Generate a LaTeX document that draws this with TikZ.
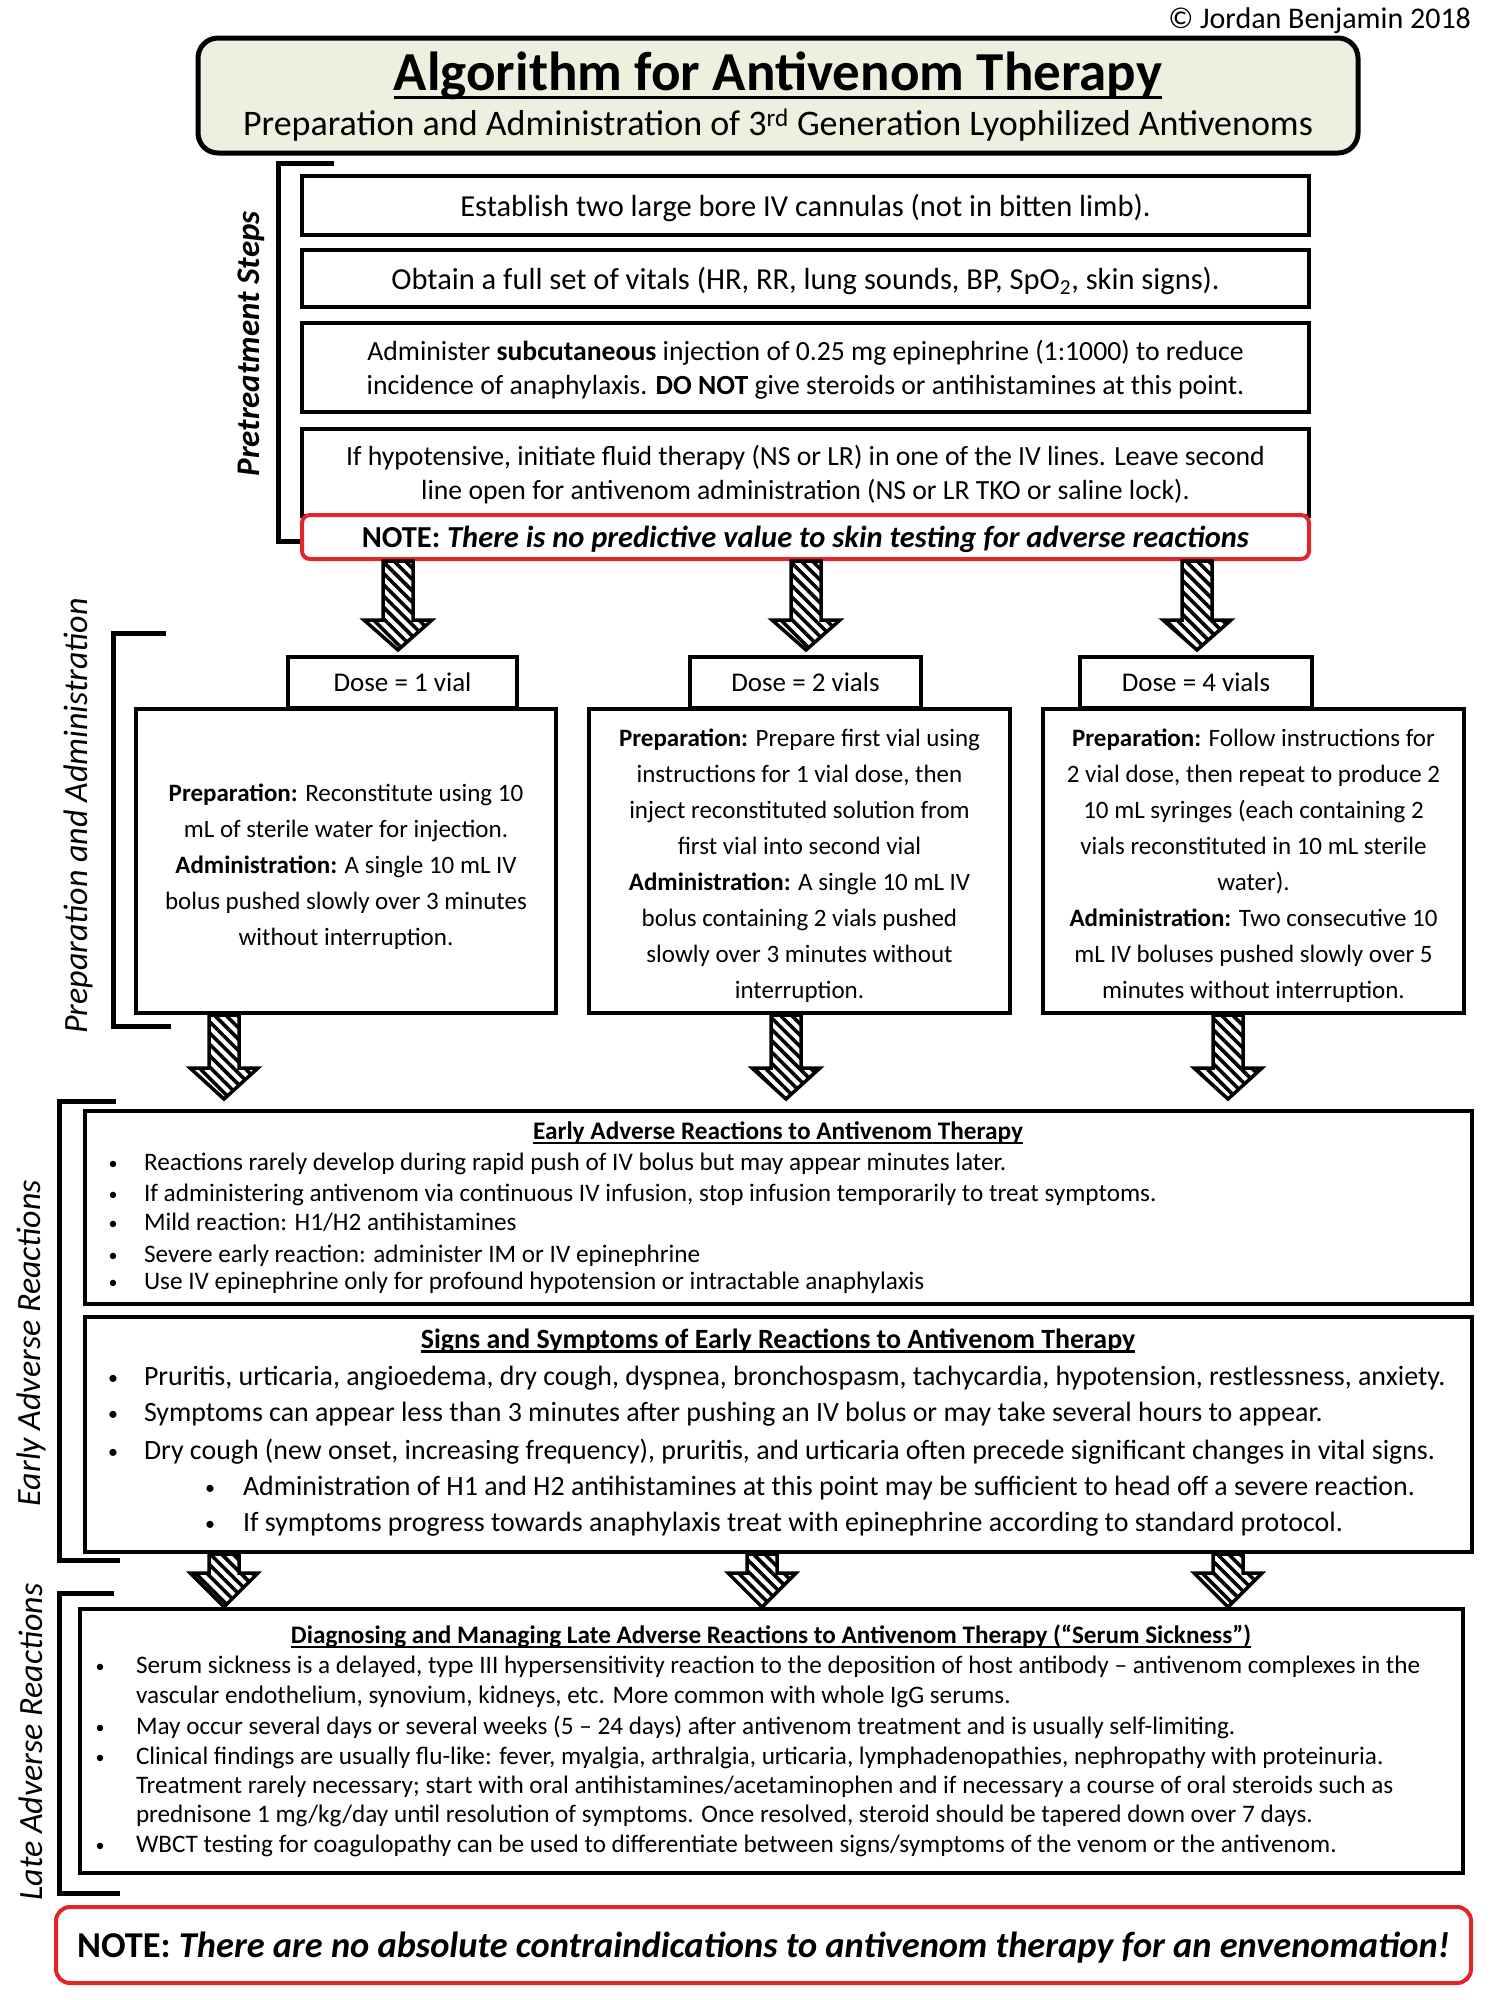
\documentclass[tikz,border=0pt]{standalone}
\usepackage{fontspec}
\setmainfont{Carlito}
\usetikzlibrary{patterns.meta}
\definecolor{titlegreen}{HTML}{EBF1DE}
\definecolor{notered}{HTML}{E2242B}
\newcommand\fsz[2]{\fontsize{#1}{#2}\selectfont}
\newcommand\harrow[4]{%
  \draw[hatcharrow] ({#1-15},#2) -- ({#1+15},#2) -- ({#1+15},#3) -- ({#1+34},#3) -- (#1,#4) -- ({#1-34},#3) -- ({#1-15},#3) -- cycle;}
\newcommand\ulunder[2]{%
  \draw[line width=#2pt] ([yshift=-3.5pt]#1.base west) -- ([yshift=-3.5pt]#1.base east);}
\tikzset{
  every node/.style={inner sep=0pt, outer sep=0pt},
  frame/.style={draw=black, line width=4.5pt, fill=white, rectangle},
  hatcharrow/.style={draw=black, line width=3.5pt, line join=miter, preaction={fill=white},
    pattern={Lines[angle=-45,distance=8pt,line width=3.6pt]}, pattern color=black},
  bracket/.style={draw=black, line width=5pt, line join=miter},
  sidelabel/.style={rotate=90, font=\itshape\fsz{34}{40}},
  bul/.style={anchor=base},
  ln/.style={anchor=base west},
  etxt/.style={font=\fsz{25.2}{30}},
  ebul/.style={anchor=base, font=\fsz{18}{20}},
  stxt/.style={font=\fsz{27.9}{33}},
  sbul/.style={anchor=base, font=\fsz{20}{22}},
  boxtxt/.style={align=center, font=\fsz{25}{36}},
}
\begin{document}
\begin{tikzpicture}[x=1pt,y=-1pt]
\useasboundingbox[fill=white] (0,0) rectangle (1500,2000);

% copyright
\node[anchor=east, font=\fsz{30}{36}] (copy) at (1471,21) {© Jordan Benjamin 2018};

% title box
\node[draw=black, line width=5pt, fill=titlegreen, rounded corners=20pt,
      minimum width=1160pt, minimum height=115pt] (titlebox) at (778,95.5) {};
\node[font=\bfseries\fsz{55}{66}] (title) at (778,76) {Algorithm for Antivenom Therapy};
\draw[line width=3.5pt] ([yshift=-7pt]title.base west) -- ([yshift=-7pt]title.base east);
\node[font=\fsz{36}{44}] (subtitle) at (778,125.5) {Preparation and Administration of 3\textsuperscript{rd} Generation Lyophilized Antivenoms};

% pretreatment bracket and label
\draw[bracket] (334,163) -- (278,163) -- (278,541) -- (302,541);
\node[rotate=90, font=\bfseries\itshape\fsz{33}{40}] (lpre) at (251,344) {Pretreatment Steps};

% pretreatment boxes
\node[frame, minimum width=1007pt, minimum height=59pt] (p1) at (805.5,205.5) {};
\node[font=\fsz{30.5}{35}] (p1t) at (805.5,208)
  {Establish two large bore IV cannulas (not in bitten limb).};
\node[frame, minimum width=1007pt, minimum height=57pt] (p2) at (805.5,278.5) {};
\node[font=\fsz{30.5}{35}] (p2t) at (805.5,281)
  {Obtain a full set of vitals (HR, RR, lung sounds, BP, SpO\textsubscript{2}, skin signs).};
\node[frame, minimum width=1007pt, minimum height=89pt] (p3) at (805.5,367.5) {};
\node[align=center, font=\fsz{27.7}{34}] (p3t) at (805.5,369.5)
  {Administer \textbf{subcutaneous} injection of 0.25 mg epinephrine (1:1000) to reduce\\
   incidence of anaphylaxis. \textbf{DO NOT} give steroids or antihistamines at this point.};
\node[frame, minimum width=1007pt, minimum height=87pt] (p4) at (805.5,472.5) {};
\node[align=center, font=\fsz{27.7}{34}] (p4t) at (805.5,475)
  {If hypotensive, initiate fluid therapy (NS or LR) in one of the IV lines. Leave second\\
   line open for antivenom administration (NS or LR TKO or saline lock).};
\node[draw=notered, line width=4pt, fill=white, rounded corners=8pt,
      minimum width=1007pt, minimum height=44pt] (note1) at (805.5,537) {};
\node[font=\fsz{30.5}{35}] (note1t) at (805.5,539.5)
  {\textbf{NOTE:} \textbf{\textit{There is no predictive value to skin testing for adverse reactions}}};

% arrows to dose boxes
\harrow{398}{561}{620}{650}
\harrow{806}{561}{620}{650}
\harrow{1197}{561}{620}{650}

% preparation bracket and label
\draw[bracket] (166,633) -- (113,633) -- (113,1026) -- (171,1026);
\node[sidelabel] (lprep) at (78,816) {Preparation and Administration};

% dose boxes
\node[frame, minimum width=229pt, minimum height=51pt, font=\fsz{27}{32}] (d1) at (402.5,682.5) {Dose = 1 vial};
\node[frame, minimum width=231pt, minimum height=51pt, font=\fsz{27}{32}] (d2) at (805.5,682.5) {Dose = 2 vials};
\node[frame, minimum width=232pt, minimum height=51pt, font=\fsz{27}{32}] (d3) at (1196,682.5) {Dose = 4 vials};

\node[frame, minimum width=420pt, minimum height=304pt] (m1) at (346,861) {};
\node[boxtxt] (m1t) at (346,867)
  {\textbf{Preparation:} Reconstitute using 10\\ mL of sterile water for injection.\\
   \textbf{Administration:} A single 10 mL IV\\ bolus pushed slowly over 3 minutes\\ without interruption.};
\node[frame, minimum width=421pt, minimum height=304pt] (m2) at (799.5,861) {};
\node[boxtxt] (m2t) at (799.5,866)
  {\textbf{Preparation:} Prepare first vial using\\ instructions for 1 vial dose, then\\
   inject reconstituted solution from\\ first vial into second vial\\
   \textbf{Administration:} A single 10 mL IV\\ bolus containing 2 vials pushed\\
   slowly over 3 minutes without\\ interruption.};
\node[frame, minimum width=421pt, minimum height=304pt] (m3) at (1253.5,861) {};
\node[boxtxt] (m3t) at (1253.5,866)
  {\textbf{Preparation:} Follow instructions for\\ 2 vial dose, then repeat to produce 2\\
   10 mL syringes (each containing 2\\ vials reconstituted in 10 mL sterile\\ water).\\
   \textbf{Administration:} Two consecutive 10\\ mL IV boluses pushed slowly over 5\\
   minutes without interruption.};

% arrows to early box
\harrow{224}{1015}{1068}{1099}
\harrow{786}{1015}{1068}{1099}
\harrow{1228}{1015}{1068}{1099}

% early bracket and label
\draw[bracket] (116,1101) -- (59,1101) -- (59,1560) -- (120,1560);
\node[sidelabel] (learly) at (31,1343) {Early Adverse Reactions};

% early box
\node[frame, minimum width=1387pt, minimum height=193pt] (eb) at (778.5,1207.5) {};
\node[bul, font=\bfseries\fsz{25.3}{30}] (et) at (778,1139) {Early Adverse Reactions to Antivenom Therapy};
\ulunder{et}{2}
\node[ebul] (eb1) at (113,1169) {•};
\node[ln, etxt] (e1) at (144,1170) {Reactions rarely develop during rapid push of IV bolus but may appear minutes later.};
\node[ebul] (eb2) at (113,1200) {•};
\node[ln, etxt] (e2) at (144,1201) {If administering antivenom via continuous IV infusion, stop infusion temporarily to treat symptoms.};
\node[ebul] (eb3) at (113,1229) {•};
\node[ln, etxt] (e3) at (144,1230) {Mild reaction: H1/H2 antihistamines};
\node[ebul] (eb4) at (113,1261) {•};
\node[ln, etxt] (e4) at (144,1262) {Severe early reaction: administer IM or IV epinephrine};
\node[ebul] (eb5) at (113,1288) {•};
\node[ln, etxt] (e5) at (144,1289) {Use IV epinephrine only for profound hypotension or intractable anaphylaxis};

% signs box
\node[frame, minimum width=1387pt, minimum height=235pt] (sb) at (778.5,1434.5) {};
\node[bul, font=\bfseries\fsz{27.9}{33}] (st) at (778,1348) {Signs and Symptoms of Early Reactions to Antivenom Therapy};
\ulunder{st}{2.2}
\node[sbul] (sb1) at (113,1384) {•};
\node[ln, stxt] (s1) at (144,1385) {Pruritis, urticaria, angioedema, dry cough, dyspnea, bronchospasm, tachycardia, hypotension, restlessness, anxiety.};
\node[sbul] (sb2) at (113,1420) {•};
\node[ln, stxt] (s2) at (144,1421) {Symptoms can appear less than 3 minutes after pushing an IV bolus or may take several hours to appear.};
\node[sbul] (sb3) at (113,1458) {•};
\node[ln, stxt] (s3) at (144,1459) {Dry cough (new onset, increasing frequency), pruritis, and urticaria often precede significant changes in vital signs.};
\node[sbul] (sb4) at (210,1494) {•};
\node[ln, stxt] (s4) at (243,1495) {Administration of H1 and H2 antihistamines at this point may be sufficient to head off a severe reaction.};
\node[sbul] (sb5) at (210,1530) {•};
\node[ln, stxt] (s5) at (243,1531) {If symptoms progress towards anaphylaxis treat with epinephrine according to standard protocol.};

% arrows to late box
\harrow{224}{1554}{1573}{1607}
\harrow{762}{1554}{1573}{1607}
\harrow{1228}{1554}{1573}{1607}

% late bracket and label
\draw[bracket] (114,1593) -- (59,1593) -- (59,1893) -- (120,1893);
\node[sidelabel] (llate) at (31,1742) {Late Adverse Reactions};

% late box
\node[frame, minimum width=1383pt, minimum height=264pt] (lb) at (771.5,1741) {};
\node[bul, font=\bfseries\fsz{25.2}{30}] (lt) at (771,1643) {Diagnosing and Managing Late Adverse Reactions to Antivenom Therapy (“Serum Sickness”)};
\ulunder{lt}{2}
\node[ebul] (lb1) at (100,1672) {•};
\node[ln, etxt] (l1) at (136,1673) {Serum sickness is a delayed, type III hypersensitivity reaction to the deposition of host antibody – antivenom complexes in the};
\node[ln, etxt] (l1b) at (136,1703) {vascular endothelium, synovium, kidneys, etc. More common with whole IgG serums.};
\node[ebul] (lb2) at (100,1733) {•};
\node[ln, etxt] (l2) at (136,1734) {May occur several days or several weeks (5 – 24 days) after antivenom treatment and is usually self-limiting.};
\node[ebul] (lb3) at (100,1763) {•};
\node[ln, etxt] (l3) at (136,1764) {Clinical findings are usually flu-like: fever, myalgia, arthralgia, urticaria, lymphadenopathies, nephropathy with proteinuria.};
\node[ln, etxt] (l3b) at (136,1793) {Treatment rarely necessary; start with oral antihistamines/acetaminophen and if necessary a course of oral steroids such as};
\node[ln, etxt] (l3c) at (136,1822) {prednisone 1 mg/kg/day until resolution of symptoms. Once resolved, steroid should be tapered down over 7 days.};
\node[ebul] (lb4) at (100,1851) {•};
\node[ln, etxt] (l4) at (136,1852) {WBCT testing for coagulopathy can be used to differentiate between signs/symptoms of the venom or the antivenom.};

% final note
\node[draw=notered, line width=4pt, fill=white, rounded corners=14pt,
      minimum width=1415pt, minimum height=76pt] (note2) at (763.5,1945) {};
\node[font=\fsz{36.4}{44}] (note2t) at (763.5,1948)
  {\textbf{NOTE:} \textbf{\textit{There are no absolute contraindications to antivenom therapy for an envenomation!}}};
\end{tikzpicture}
\end{document}
